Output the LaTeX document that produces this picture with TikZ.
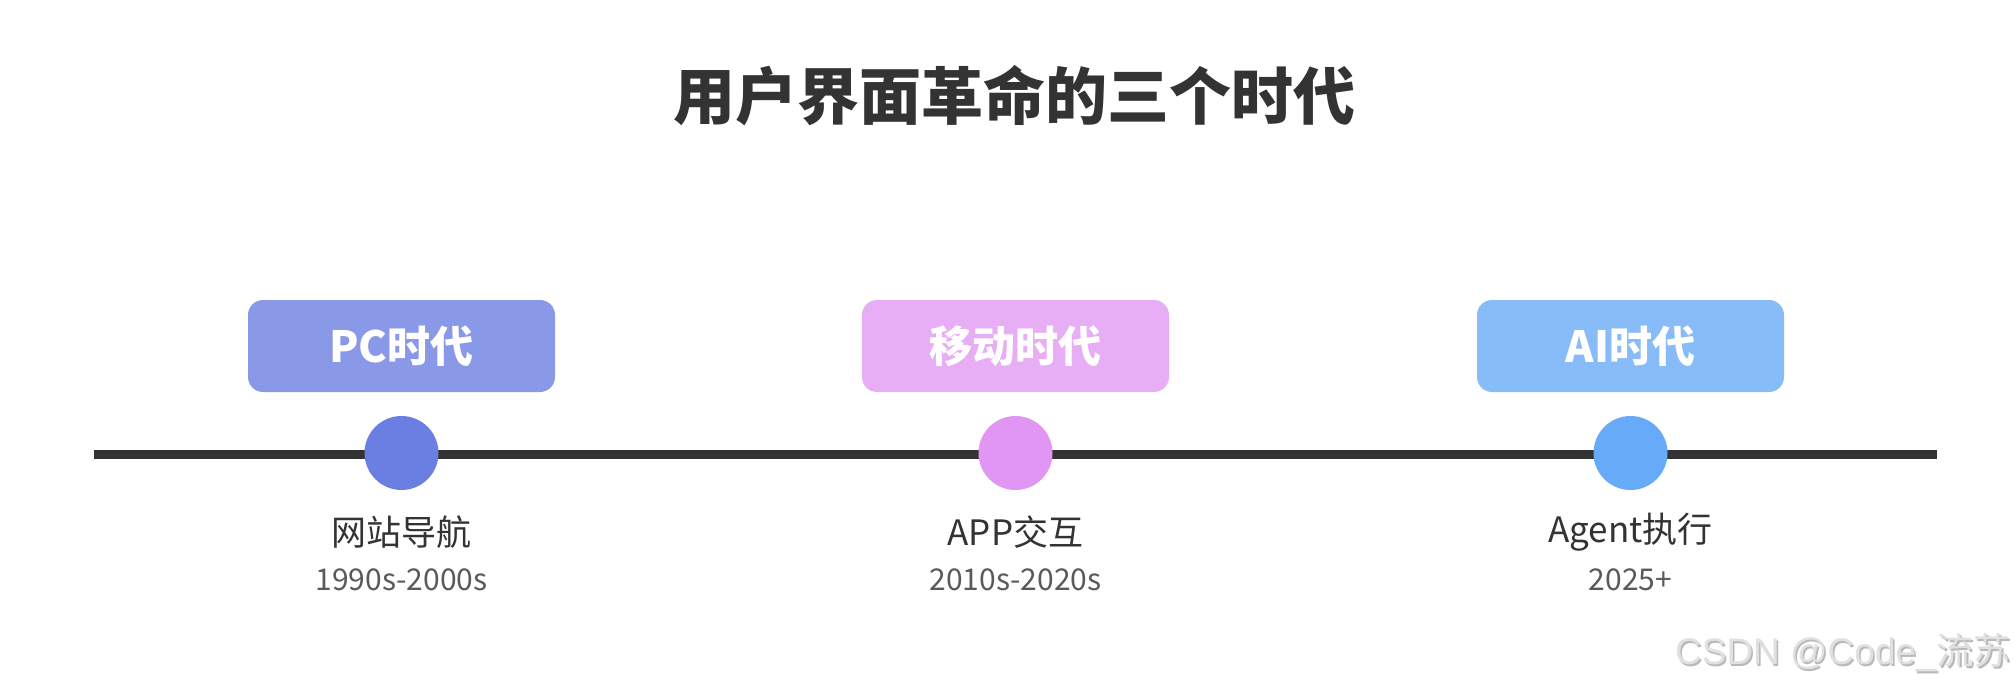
\documentclass[tikz,border=0pt]{standalone}
\usepackage{fontspec}
\setmainfont{Noto Sans CJK SC}
\newfontfamily\wmfont{Liberation Sans}
\newfontfamily\wmcjk{Noto Sans CJK SC}
\definecolor{titlec}{HTML}{333333}
\definecolor{linec}{HTML}{333333}
\definecolor{datec}{HTML}{5A5A5A}
\definecolor{boxA}{HTML}{8A98E8}
\definecolor{dotA}{HTML}{6B7FE3}
\definecolor{boxB}{HTML}{E8AEF5}
\definecolor{dotB}{HTML}{E096F2}
\definecolor{boxC}{HTML}{88BCF9}
\definecolor{dotC}{HTML}{66AAF8}
\definecolor{wmfront}{HTML}{E0E0E0}
\definecolor{wmshadow}{HTML}{B8B8B8}
\tikzset{
  erabox/.style={rounded corners=15pt, minimum width=307pt, minimum height=92pt, inner sep=0pt, text=white, font=\fontsize{43}{50}\selectfont\bfseries},
  eradot/.style={circle, minimum size=74pt, inner sep=0pt},
  eralabel/.style={inner sep=0pt, text=titlec, font=\fontsize{35}{42}\selectfont},
  eradate/.style={inner sep=0pt, text=datec, font=\fontsize{30}{36}\selectfont},
}
\begin{document}
\begin{tikzpicture}[x=1pt,y=-1pt]
\useasboundingbox (0,0) rectangle (2016,689);
\fill[white] (0,0) rectangle (2016,689);
% title
\node[inner sep=0pt, text=titlec, font=\fontsize{62}{72}\selectfont\bfseries] (title) at (1014,96) {用户界面革命的三个时代};
% timeline
\coordinate (L) at (94,454);
\coordinate (R) at (1937,454);
\draw[linec, line width=9pt] (L) -- (R);
% boxes
\node[erabox, fill=boxA] (b1) at (401.5,346) {PC时代};
\node[erabox, fill=boxB] (b2) at (1015.5,346) {移动时代};
\node[erabox, fill=boxC] (b3) at (1630.5,346) {AI时代};
% dots
\node[eradot, fill=dotA] (c1) at (401.5,453) {};
\node[eradot, fill=dotB] (c2) at (1015.5,453) {};
\node[eradot, fill=dotC] (c3) at (1630.5,453) {};
% labels
\node[eralabel] (l1) at (401.5,532) {网站导航};
\node[eralabel] (l2) at (1015.5,532) {APP交互};
\node[eralabel] (l3) at (1630.5,532) {Agent执行};
\node[eradate] (d1) at (401.5,580) {1990s-2000s};
\node[eradate] (d2) at (1015.5,580) {2010s-2020s};
\node[eradate] (d3) at (1630.5,580) {2025+};
% watermark
\node[inner sep=0pt, anchor=east, text=wmshadow, font=\fontsize{37}{44}\selectfont] (wms) at (2012.5,654.5) {\wmfont CSDN @Code\_{\wmcjk 流苏}};
\node[inner sep=0pt, anchor=east, text=wmfront, font=\fontsize{37}{44}\selectfont] (wm) at (2011,653) {\wmfont CSDN @Code\_{\wmcjk 流苏}};
\end{tikzpicture}
\end{document}
